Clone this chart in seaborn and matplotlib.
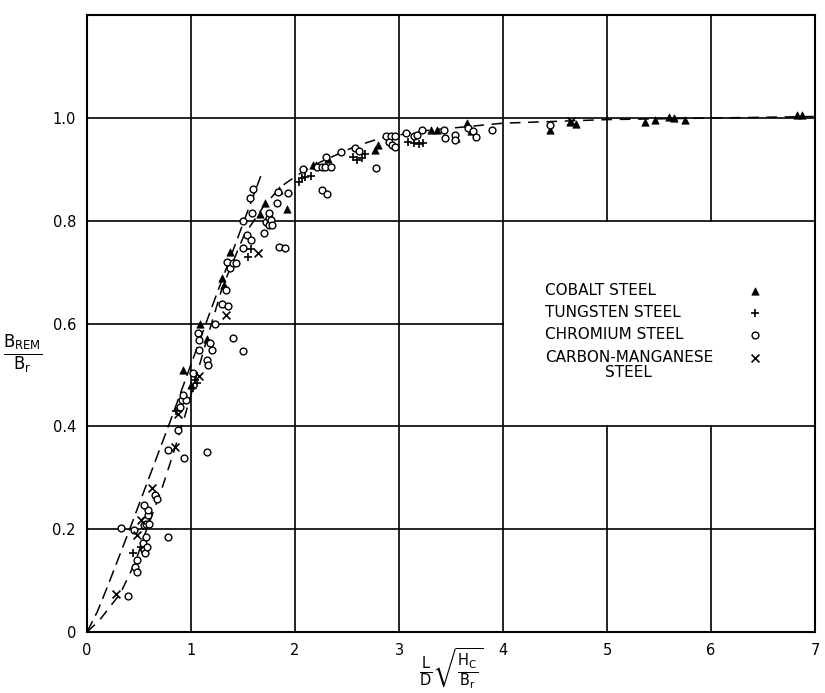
import numpy as np
import pandas as pd
import matplotlib
matplotlib.use("Agg")
import matplotlib.pyplot as plt
from matplotlib.patches import Rectangle
import seaborn as sns

# pontos (x = L/D*sqrt(Hc/Br), y = Brem/Br)
cobalt_x = [0.92, 1.00, 1.09, 1.15, 1.30, 1.32, 1.37, 1.66, 1.71, 1.85, 1.92,
            2.17, 2.20, 2.32, 2.77, 2.80, 3.31, 3.36, 3.55, 3.65, 3.69,
            4.45, 4.64, 4.70, 5.36, 5.46, 5.60, 5.64, 5.75, 6.83, 6.87]
cobalt_y = [0.510, 0.480, 0.600, 0.571, 0.688, 0.675, 0.740, 0.814, 0.834, 0.860, 0.824,
            0.908, 0.908, 0.920, 0.938, 0.947, 0.977, 0.977, 0.961, 0.990, 0.974,
            0.977, 0.993, 0.988, 0.993, 0.997, 1.002, 1.001, 0.996, 1.006, 1.006]

tungsten_x = [0.44, 0.52, 0.86, 1.02, 1.04, 1.06, 1.55, 1.58, 2.04, 2.07, 2.10,
              2.15, 2.56, 2.60, 2.64, 2.67, 3.09, 3.14, 3.19, 3.23]
tungsten_y = [0.153, 0.166, 0.430, 0.474, 0.490, 0.484, 0.730, 0.745, 0.876, 0.883, 0.886,
              0.887, 0.925, 0.918, 0.922, 0.931, 0.954, 0.951, 0.949, 0.951]

chromium_x = [0.39, 0.46, 0.48, 0.48, 0.54, 0.55, 0.56, 0.58, 0.33, 0.45, 0.57, 0.78,
              0.55, 0.56, 0.57, 0.59, 0.59, 0.60, 0.55, 0.65, 0.67, 0.78, 0.87, 0.93,
              1.15, 0.89, 0.91, 0.95, 0.92, 1.02, 1.15, 1.16, 1.08, 1.20, 1.18, 1.07,
              1.08, 1.23, 1.40, 1.50, 1.30, 1.36, 1.34, 1.37, 1.35, 1.40, 1.43, 1.50,
              1.50, 1.54, 1.58, 1.59, 1.57, 1.60, 1.70, 1.72, 1.75, 1.75, 1.77, 1.75,
              1.78, 1.83, 1.84, 1.93, 1.85, 1.90,
              2.08, 2.26, 2.31, 2.21, 2.26, 2.29, 2.35, 2.30, 2.44, 2.58, 2.61, 2.78,
              2.87, 2.92, 2.96, 2.90, 2.93, 2.96, 3.07, 3.14, 3.17, 3.22, 3.43, 3.44,
              3.54, 3.54, 3.66, 3.71, 3.74, 3.89, 4.45]
chromium_y = [0.071, 0.127, 0.117, 0.141, 0.173, 0.160, 0.153, 0.166, 0.202, 0.198, 0.185, 0.185,
              0.208, 0.218, 0.211, 0.228, 0.237, 0.211, 0.247, 0.267, 0.258, 0.355, 0.393, 0.338,
              0.350, 0.438, 0.451, 0.451, 0.461, 0.504, 0.529, 0.519, 0.549, 0.549, 0.562, 0.581,
              0.569, 0.599, 0.573, 0.547, 0.638, 0.634, 0.665, 0.708, 0.720, 0.717, 0.718, 0.747,
              0.800, 0.772, 0.763, 0.816, 0.844, 0.861, 0.776, 0.798, 0.792, 0.805, 0.802, 0.815,
              0.792, 0.834, 0.857, 0.855, 0.750, 0.748,
              0.900, 0.860, 0.852, 0.905, 0.905, 0.905, 0.905, 0.925, 0.934, 0.941, 0.936, 0.903,
              0.965, 0.965, 0.965, 0.954, 0.947, 0.944, 0.970, 0.965, 0.967, 0.977, 0.977, 0.961,
              0.967, 0.957, 0.980, 0.974, 0.964, 0.977, 0.986]

carbon_x = [0.28, 0.48, 0.52, 0.62, 0.85, 0.87, 1.08, 1.34, 1.64, 4.65]
carbon_y = [0.074, 0.189, 0.218, 0.280, 0.360, 0.425, 0.498, 0.617, 0.737, 0.995]

# curvas tracejadas
curva1_x = [0, 0.1, 0.2, 0.41, 0.8, 1.2, 1.67]
curva1_y = [0, 0.04, 0.09, 0.20, 0.41, 0.632, 0.887]
curva2_x = [0, 0.12, 0.32, 0.46, 0.57, 0.715, 0.83, 0.94, 1.04, 1.16, 1.30, 1.51,
            1.69, 1.86, 2.03, 2.25, 2.58, 2.84, 3.28, 4.0, 5.0, 6.0, 7.0]
curva2_y = [0, 0.023, 0.075, 0.134, 0.198, 0.276, 0.348, 0.42, 0.49, 0.575, 0.67, 0.772,
            0.826, 0.866, 0.89, 0.915, 0.945, 0.962, 0.976, 0.99, 0.997, 1.0, 1.003]

nomes = ['COBALT STEEL', 'TUNGSTEN STEEL', 'CHROMIUM STEEL', 'CARBON-MANGANESE\nSTEEL']
xticks = [0, 1, 2, 3, 4, 5, 6, 7]
yticks = [0, 0.2, 0.4, 0.6, 0.8, 1.0]
ytick_labels = ['0', '0.2', '0.4', '0.6', '0.8', '1.0']

sns.set_style('white')
plt.rcParams['font.family'] = ['DejaVu Sans']
plt.rcParams['mathtext.fontset'] = 'dejavusans'
plt.rcParams['text.color'] = 'black'
plt.rcParams['axes.labelcolor'] = 'black'

fig = plt.figure(figsize=(8.25, 6.93), dpi=100)
ax = fig.add_axes([0.1055, 0.088, 0.8825, 0.890])

ax.set_xlim(0, 7)
ax.set_ylim(0, 1.2)
ax.set_xticks(xticks)
ax.set_yticks(yticks)
ax.set_yticklabels(ytick_labels)
ax.tick_params(length=0, labelsize=10.5, pad=8, colors='black')
ax.grid(True, color='black', linewidth=1.2)
ax.set_axisbelow(True)
for s in ax.spines.values():
    s.set_color('black')
    s.set_linewidth(1.5)

# area branca da legenda (sem grade)
ax.add_patch(Rectangle((4.012, 0.403), 2.976, 0.394, facecolor='white',
                       edgecolor='none', zorder=1))

sns.lineplot(x=curva1_x, y=curva1_y, ax=ax, color='black', sort=False,
             linewidth=1.1, zorder=2)
ax.lines[-1].set_dashes((8, 4))
sns.lineplot(x=curva2_x, y=curva2_y, ax=ax, color='black', sort=False,
             linewidth=1.1, zorder=2)
ax.lines[-1].set_dashes((7, 5))

series = [
    (cobalt_x, cobalt_y, dict(marker='^', s=28, color='black', edgecolor='black', linewidth=0.5)),
    (tungsten_x, tungsten_y, dict(marker='+', s=40, color='black', linewidth=1.2)),
    (chromium_x, chromium_y, dict(marker='o', s=24, facecolor='white', edgecolor='black', linewidth=1.0)),
    (carbon_x, carbon_y, dict(marker='x', s=32, color='black', linewidth=1.2)),
]
for xs, ys, kw in series:
    sns.scatterplot(x=xs, y=ys, ax=ax, zorder=3, legend=False, **kw)

# legenda manual: texto a esquerda, simbolo a direita
leg_y = [0.664, 0.621, 0.578, 0.534]
for (xs, ys, kw), nome, yy in zip(series, nomes, leg_y):
    if '\n' in nome:
        ax.text(4.40, yy + 0.014, nome, fontsize=11, ha='left', va='top',
                multialignment='center', linespacing=1.0, zorder=4)
    else:
        ax.text(4.40, yy, nome, fontsize=11, ha='left', va='center', zorder=4)
    ax.scatter([6.42], [yy], zorder=4, **kw)

ax.set_xlabel(r'$\frac{\mathrm{L}}{\mathrm{D}}\sqrt{\frac{\mathrm{H_C}}{\mathrm{B_r}}}$', fontsize=15)
ax.xaxis.set_label_coords(0.5, -0.022)
ax.xaxis.label.set_va('top')
ax.set_ylabel(r'$\frac{\mathrm{B_{REM}}}{\mathrm{B_r}}$', fontsize=17, rotation=0)
ax.yaxis.set_label_coords(-0.088, 0.45)
ax.yaxis.label.set_va('center')

fig.savefig('out.png', dpi=100)
